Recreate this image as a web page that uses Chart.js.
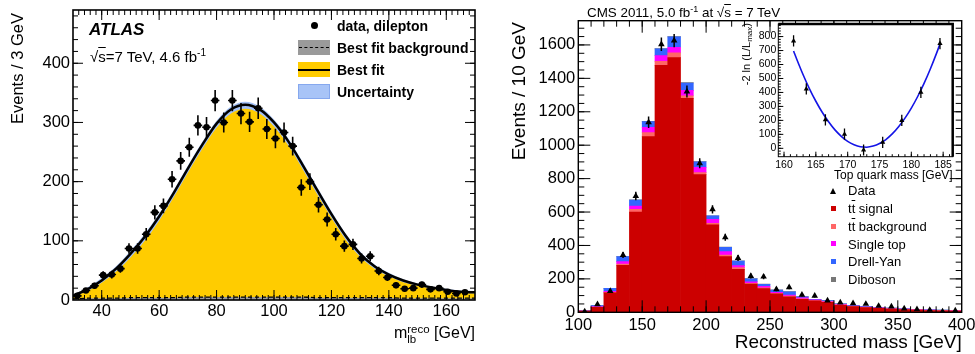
<!DOCTYPE html>
<html><head><meta charset="utf-8">
<script src="https://cdn.jsdelivr.net/npm/chart.js@4.4.1/dist/chart.umd.min.js"></script>
<style>
html,body{margin:0;padding:0;background:#fff;}
#wrap{position:relative;width:975px;height:354px;overflow:hidden;font-family:"Liberation Sans",Arial,Helvetica,sans-serif;color:#000;}
canvas{position:absolute;}
.t{position:absolute;white-space:nowrap;line-height:1;}
.rot{transform:rotate(-90deg);transform-origin:0 0;text-align:right;}
.ov{text-decoration:overline;}
.box{position:absolute;box-sizing:border-box;}
</style></head><body>
<div id="wrap">
<canvas id="cL" width="490" height="354" style="left:0;top:0"></canvas>
<canvas id="cR" width="485" height="354" style="left:490px;top:0"></canvas>
<canvas id="cI" width="240" height="175" style="left:730px;top:15px"></canvas>

<!-- left panel texts -->
<div class="t" style="left:89px;top:21px;font-size:17px;font-weight:bold;font-style:italic;">ATLAS</div>
<div class="t" style="left:90px;top:49px;font-size:15px;">&radic;<span class="ov">s</span>=7 TeV, 4.6 fb<sup style="font-size:10px;vertical-align:6px;line-height:0">-1</sup></div>
<div class="box" style="left:310.5px;top:22.2px;width:7px;height:7px;border-radius:50%;background:#000;"></div>
<div class="box" style="left:298px;top:40px;width:32px;height:15px;background:#9a9a9a;"></div>
<div class="box" style="left:299px;top:47px;width:30px;height:0;border-top:1.5px dashed #000;"></div>
<div class="box" style="left:298px;top:62px;width:32px;height:15px;background:#ffcc00;"></div>
<div class="box" style="left:298px;top:68.5px;width:32px;height:2px;background:#000;"></div>
<div class="box" style="left:298px;top:84px;width:32px;height:15px;background:#a8c4f7;border:1px solid #86a8ee;"></div>
<div class="t" style="left:337px;top:18.5px;font-size:14px;font-weight:bold;">data, dilepton</div>
<div class="t" style="left:337px;top:40.5px;font-size:14px;font-weight:bold;">Best fit background</div>
<div class="t" style="left:337px;top:62.5px;font-size:14px;font-weight:bold;">Best fit</div>
<div class="t" style="left:337px;top:84.5px;font-size:14px;font-weight:bold;">Uncertainty</div>
<div class="t rot" style="left:9.3px;top:213px;width:200px;font-size:16.5px;">Events / 3 GeV</div>
<div class="t" style="right:500px;top:324.5px;font-size:16px;">m<span style="display:inline-block;vertical-align:-5px;font-size:11.5px;line-height:9.5px;"><span style="display:block">reco</span><span style="display:block">lb</span></span> [GeV]</div>

<!-- right panel texts -->
<div class="t" style="left:587px;top:6px;font-size:13.4px;">CMS 2011, 5.0 fb<sup style="font-size:9px;vertical-align:5px;line-height:0">-1</sup> at &radic;<span class="ov">s</span> = 7 TeV</div>
<div class="t rot" style="left:509px;top:272px;width:250px;font-size:19px;">Events / 10 GeV</div>
<div class="t" style="right:13.3px;top:332px;font-size:19px;">Reconstructed mass [GeV]</div>
<div class="t rot" style="left:740.7px;top:173.3px;width:150px;font-size:11px;">-2 ln (L/L<sub style="font-size:8px;vertical-align:-2px;line-height:0">max</sub>)</div>
<div class="t" style="right:22.3px;top:168.5px;font-size:12px;">Top quark mass [GeV]</div>

<div class="box" style="left:829.5px;top:187.5px;width:0;height:0;border-left:3.5px solid transparent;border-right:3.5px solid transparent;border-bottom:6px solid #000;"></div>
<div class="box" style="left:830.5px;top:206px;width:5px;height:5px;background:#cc0000;"></div>
<div class="box" style="left:830.5px;top:223.7px;width:5px;height:5px;background:#ff6666;"></div>
<div class="box" style="left:830.5px;top:241.4px;width:5px;height:5px;background:#ff00ff;"></div>
<div class="box" style="left:830.5px;top:259.1px;width:5px;height:5px;background:#3366ff;"></div>
<div class="box" style="left:830.5px;top:276.8px;width:5px;height:5px;background:#777777;"></div>
<div class="t" style="left:848px;top:184.4px;font-size:13px;">Data</div>
<div class="t" style="left:848px;top:202.1px;font-size:13px;">t<span class="ov">t</span> signal</div>
<div class="t" style="left:848px;top:219.8px;font-size:13px;">t<span class="ov">t</span> background</div>
<div class="t" style="left:848px;top:237.5px;font-size:13px;">Single top</div>
<div class="t" style="left:848px;top:255.2px;font-size:13px;">Drell-Yan</div>
<div class="t" style="left:848px;top:272.9px;font-size:13px;">Diboson</div>
</div>

<script>
// ---------- Left panel (ATLAS) data ----------
const massL = [31.5,34.5,37.5,40.5,43.5,46.5,49.5,52.5,55.5,58.5,61.5,64.5,67.5,70.5,73.5,76.5,79.5,82.5,85.5,88.5,91.5,94.5,97.5,100.5,103.5,106.5,109.5,112.5,115.5,118.5,121.5,124.5,127.5,130.5,133.5,136.5,139.5,142.5,145.5,148.5,151.5,154.5,157.5,160.5,163.5,166.5];
const dataL = [7,16,24,42,43,53,87,87,111,148,159,204,235,258,295,292,337,300,337,315,301,324,289,273,283,260,190,200,161,136,111,91,94,70,74,49,38,25,19,20,26,18,20,14,11,13];
const errL  = [3,4,5,6.5,6.5,7,9,9,10.5,12,12.5,14,15,16,17,17,18,17,18,18,17,18,17,16.5,17,16,14,14,13,12,10.5,9.5,9.5,8.5,8.5,7,6,5,4.5,4.5,5,4,4.5,4,3.5,3.5];
const fitX  = [30,35,40,45,50,55,60,65,70,75,80,85,90,95,100,105,110,115,120,125,130,135,140,145,150,155,160,165,170];
const fitY  = [7,18,33,53,78,107,141,180,222,262,298,322,330,322,300,268,228,186,145,108,78,57,43,33,26,21,17,14,13];
const bandHi= [9,21,37,57,83,112,146,185,227,267,303,327,335,327,305,273,233,191,150,112,82,60,46,35,28,23,19,16,15];
const bandLo= [5,15,29,48,72,100,134,173,215,255,291,315,323,315,293,261,221,179,139,102,73,53,40,30,24,19,15,12,11];
const bkgY  = [2,3,3,3,4,4,4,4,5,5,5,5,5,5,5,5,5,4,4,4,4,4,4,3,3,3,3,3,3];
const xTicksL = [40,60,80,100,120,140,160];
const yTicksL = [0,100,200,300,400];

// ---------- Right panel (CMS) data ----------
const binCenters = [105,115,125,135,145,155,165,175,185,195,205,215,225,235,245,255,265,275,285,295,305,315,325,335,345,355,365,375,385,395];
const ttSignal  = [7,30,116,281,600,1051,1478,1524,1280,824,523,333,257,169,142,110,93,78,68,60,42,34,28,24,20,17,14,11,9,8];
const ttBkg     = [0,1,3,8,16,24,24,28,16,12,10,10,10,4,5,4,4,3,2,2,2,1,1,1,1,1,1,1,1,1];
const singleTop = [1,3,7,14,20,32,34,34,32,32,24,20,12,10,9,6,6,5,4,4,3,2,2,2,2,1,1,1,1,1];
const drellYan  = [2,6,17,30,36,34,40,62,44,33,20,26,28,18,12,13,20,7,4,4,3,3,3,3,3,2,2,2,2,1];
const diboson   = [0,0,1,1,1,2,2,2,2,1,1,1,1,1,1,1,1,1,0,0,0,0,0,0,0,0,0,0,0,0];
const dataR = [5,48,127,343,696,1137,1604,1626,1321,892,616,449,325,217,213,138,150,104,98,70,58,54,50,38,34,22,18,14,4,10];
const errR  = [2,7,11,18.5,26,34,40,40,36,30,25,21,18,15,15,12,12,10,10,8,8,7,7,6,6,5,4,4,2,3];
const xTicksR = [100,150,200,250,300,350,400];
const yTicksR = [0,200,400,600,800,1000,1200,1400,1600];

// ---------- Inset (likelihood) data ----------
const massI = [161.5,163.5,166.5,169.5,172.5,175.5,178.5,181.5,184.5];
const likeI = [769,425,204,101,-12,43,200,401,750];
const errI  = [40,40,40,40,40,40,40,40,40];
const curveX = [161.5,162,163,164,165,166,167,168,169,170,171,172,173,174,175,176,177,178,179,180,181,182,183,184,184.5];
const curveY = [697,638,527,426,337,258,190,132,86,50,26,11,8,16,34,63,103,154,216,288,371,465,570,685,747];
const xTicksI = [160,165,170,175,180,185];
const yTicksI = [0,100,200,300,400,500,600,700,800];

// ---------- helpers ----------
const FONT = '"Liberation Sans", Arial, Helvetica, sans-serif';
Chart.defaults.font.family = FONT;
Chart.defaults.color = '#000';
Chart.defaults.animation = false;
Chart.defaults.plugins.legend.display = false;
Chart.defaults.plugins.tooltip.enabled = false;

const pts = (xs, ys) => xs.map((x, i) => ({x: x, y: ys[i]}));

function axis(kind, min, max, tickVals, size, pad, thick) {
  return {
    type: 'linear', min: min, max: max, offset: false,
    grid: {display: false, drawTicks: false}, border: {display: false},
    ticks: {font: {size: size}, color: '#000', padding: pad, maxRotation: 0, autoSkip: false,
            callback: v => String(v)},
    afterBuildTicks: s => { s.ticks = tickVals.map(v => ({value: v})); },
    afterFit: s => {
      if (kind === 'x') s.height = thick; else s.width = thick;
      s.paddingLeft = 0; s.paddingRight = 0; s.paddingTop = 0; s.paddingBottom = 0;
    }
  };
}

function framePlugin(c) {
  return {
    id: 'frame',
    beforeDraw(chart) {
      if (!c.white) return;
      const a = chart.chartArea, ctx = chart.ctx;
      ctx.save(); ctx.fillStyle = '#fff';
      ctx.fillRect(a.left, a.top, a.right - a.left, a.bottom - a.top); ctx.restore();
    },
    afterDatasetsDraw(chart) {
      const ctx = chart.ctx, a = chart.chartArea, sx = chart.scales.x, sy = chart.scales.y;
      ctx.save(); ctx.strokeStyle = '#000'; ctx.lineWidth = c.tw; ctx.beginPath();
      const xt = (v, L) => { const p = sx.getPixelForValue(v); if (p < a.left + 1 || p > a.right - 1) return;
        ctx.moveTo(p, a.bottom); ctx.lineTo(p, a.bottom - L);
        if (c.mirror) { ctx.moveTo(p, a.top); ctx.lineTo(p, a.top + L); } };
      const yt = (v, L) => { const p = sy.getPixelForValue(v); if (p < a.top + 1 || p > a.bottom - 1) return;
        ctx.moveTo(a.left, p); ctx.lineTo(a.left + L, p);
        if (c.mirror) { ctx.moveTo(a.right, p); ctx.lineTo(a.right - L, p); } };
      for (let k = 0; c.xMinStart + k * c.xMinStep <= sx.max + 1e-9; k++) xt(c.xMinStart + k * c.xMinStep, c.minL);
      for (let k = 0; c.yMinStart + k * c.yMinStep <= sy.max + 1e-9; k++) yt(c.yMinStart + k * c.yMinStep, c.minL);
      c.xMaj.forEach(v => xt(v, c.majL));
      c.yMaj.forEach(v => yt(v, c.majL));
      ctx.stroke();
      ctx.lineWidth = c.fw;
      ctx.strokeRect(a.left, a.top, a.right - a.left, a.bottom - a.top);
      if (c.thick) {
        ctx.lineWidth = c.thick; ctx.beginPath();
        ctx.moveTo(a.left, a.top); ctx.lineTo(a.right, a.top); ctx.lineTo(a.right, a.bottom);
        ctx.stroke();
      }
      ctx.restore();
    }
  };
}

function errPlugin(xs, ys, es, xe, lw) {
  return {
    id: 'errbars',
    afterDatasetsDraw(chart) {
      const ctx = chart.ctx, a = chart.chartArea, x = chart.scales.x, y = chart.scales.y;
      ctx.save(); ctx.beginPath(); ctx.rect(a.left, a.top, a.right - a.left, a.bottom - a.top); ctx.clip();
      ctx.strokeStyle = '#000'; ctx.lineWidth = lw; ctx.beginPath();
      xs.forEach((xv, i) => {
        const px = x.getPixelForValue(xv);
        ctx.moveTo(px, y.getPixelForValue(ys[i] - es[i]));
        ctx.lineTo(px, y.getPixelForValue(ys[i] + es[i]));
        if (xe) { const py = y.getPixelForValue(ys[i]);
          ctx.moveTo(x.getPixelForValue(xv - xe), py); ctx.lineTo(x.getPixelForValue(xv + xe), py); }
      });
      ctx.stroke(); ctx.restore();
    }
  };
}

// ---------- Left chart ----------
new Chart(document.getElementById('cL'), {
  type: 'line',
  data: { datasets: [
    {data: pts(massL, dataL), showLine: false, pointRadius: 3.3, pointStyle: 'circle',
     pointBackgroundColor: '#000', pointBorderWidth: 0, order: 0},
    {data: pts(fitX, fitY), borderColor: '#000', borderWidth: 2.5, pointRadius: 0, fill: false,
     cubicInterpolationMode: 'monotone', order: 1},
    {data: pts(fitX, bandHi), borderWidth: 0, pointRadius: 0, fill: {target: 3},
     backgroundColor: '#a3c0f5', cubicInterpolationMode: 'monotone', order: 2},
    {data: pts(fitX, bandLo), borderWidth: 0, pointRadius: 0, fill: false,
     cubicInterpolationMode: 'monotone', order: 3},
    {data: pts(fitX, bkgY), borderColor: '#000', borderWidth: 1.3, borderDash: [4, 3], pointRadius: 0,
     backgroundColor: '#9a9a9a', fill: 'origin', order: 4},
    {data: pts(fitX, fitY), borderWidth: 0, pointRadius: 0, backgroundColor: '#ffcc00', fill: 'origin',
     cubicInterpolationMode: 'monotone', order: 5}
  ]},
  options: {
    responsive: false, devicePixelRatio: 1,
    layout: {padding: {left: 0, right: 15, top: 10, bottom: 0}},
    scales: {
      x: axis('x', 30, 170, xTicksL, 16.5, 2, 54),
      y: axis('y', 0, 490, yTicksL, 16.5, 3, 73)
    }
  },
  plugins: [errPlugin(massL, dataL, errL, 1.5, 1.6),
            framePlugin({tw: 1, fw: 1.6, majL: 10, minL: 5, mirror: true,
                         xMaj: xTicksL, yMaj: yTicksL, xMinStart: 30, xMinStep: 2, yMinStart: 0, yMinStep: 20})]
});

// ---------- Right chart ----------
const barDs = (arr, col, ord) => ({type: 'bar', data: pts(binCenters, arr), backgroundColor: col,
  borderWidth: 0, barPercentage: 1, categoryPercentage: 1, stack: 'mc', order: ord});
new Chart(document.getElementById('cR'), {
  type: 'bar',
  data: { datasets: [
    {type: 'line', data: pts(binCenters, dataR), showLine: false, pointStyle: 'triangle', pointRadius: 3.8,
     pointBackgroundColor: '#000', pointBorderColor: '#000', pointBorderWidth: 0, stack: 'data', order: 0},
    barDs(ttSignal, '#cc0000', 1),
    barDs(ttBkg, '#ff6666', 2),
    barDs(singleTop, '#ff00ff', 3),
    barDs(drellYan, '#3366ff', 4),
    barDs(diboson, '#777777', 5)
  ]},
  options: {
    responsive: false, devicePixelRatio: 1,
    layout: {padding: {left: 0, right: 13.3, top: 20.7, bottom: 0}},
    scales: {
      x: axis('x', 100, 400, xTicksR, 16.5, 3, 41.7),
      y: Object.assign(axis('y', 0, 1745, yTicksR, 16.5, 3, 88.3), {stacked: true})
    }
  },
  plugins: [errPlugin(binCenters, dataR, errR, 0, 1.5),
            framePlugin({tw: 1, fw: 1.4, majL: 12, minL: 6, mirror: true,
                         xMaj: xTicksR, yMaj: yTicksR, xMinStart: 100, xMinStep: 10, yMinStart: 0, yMinStep: 50})]
});

// ---------- Inset chart ----------
new Chart(document.getElementById('cI'), {
  type: 'line',
  data: { datasets: [
    {data: pts(massI, likeI), showLine: false, pointStyle: 'triangle', pointRadius: 3,
     pointBackgroundColor: '#000', pointBorderColor: '#000', pointBorderWidth: 0, order: 0},
    {data: pts(curveX, curveY), borderColor: '#1414e6', borderWidth: 1.6, pointRadius: 0, fill: false,
     cubicInterpolationMode: 'monotone', order: 1}
  ]},
  options: {
    responsive: false, devicePixelRatio: 1,
    layout: {padding: {left: 0, right: 17.3, top: 9, bottom: 0}},
    scales: {
      x: axis('x', 159.1, 186.5, xTicksI, 10.5, 2, 33.3),
      y: axis('y', -60, 890, yTicksI, 10.5, 2, 48.3)
    }
  },
  plugins: [errPlugin(massI, likeI, errI, 0, 1.3),
            framePlugin({white: true, tw: 1, fw: 1, thick: 2.5, majL: 5, minL: 2.5, mirror: false,
                         xMaj: xTicksI, yMaj: yTicksI, xMinStart: 160, xMinStep: 1, yMinStart: -60, yMinStep: 20})]
});
</script>
</body></html>
